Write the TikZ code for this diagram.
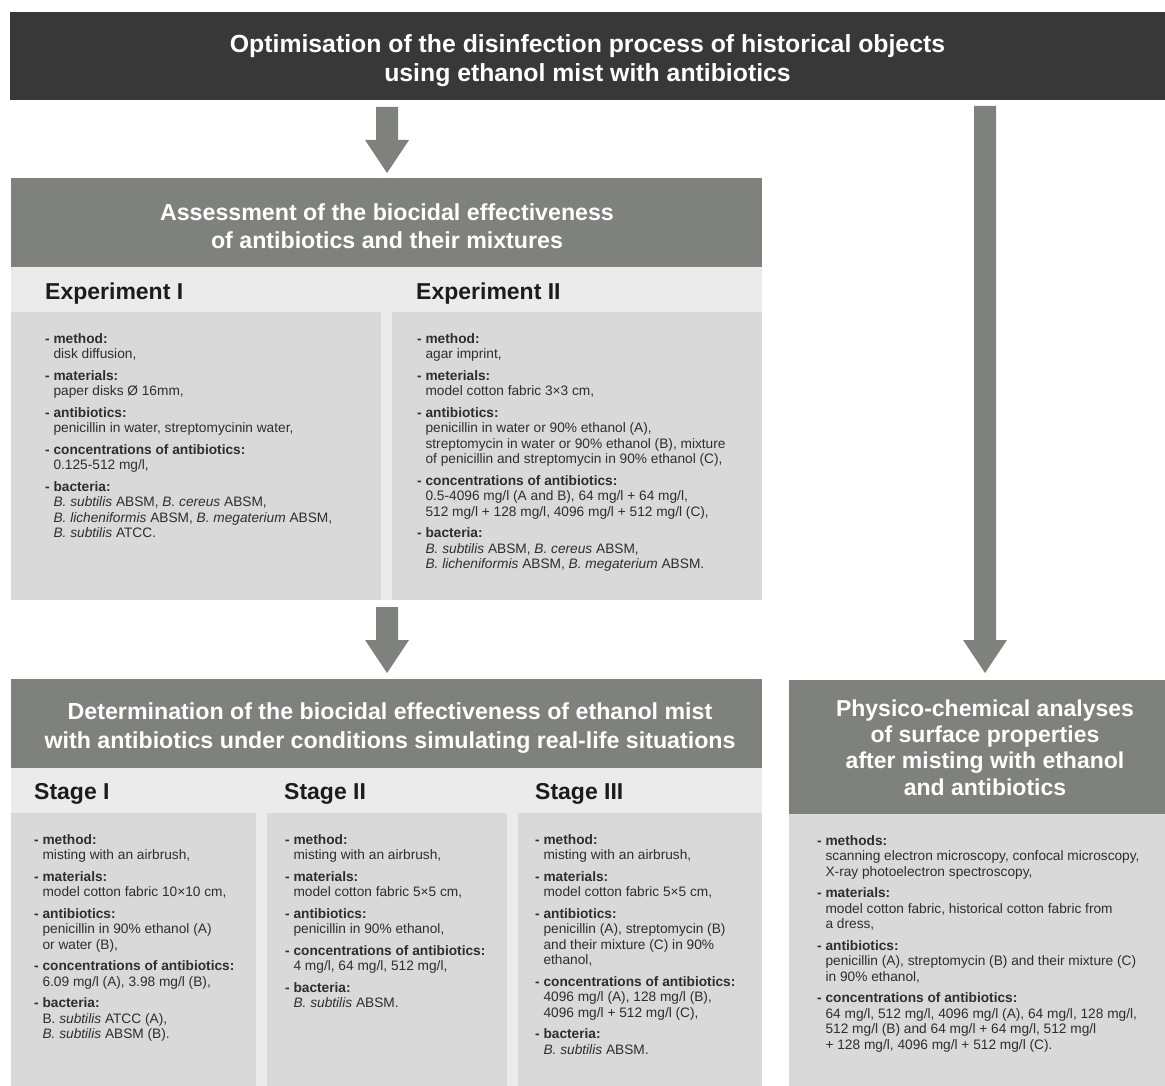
\documentclass[tikz,border=0pt]{standalone}
\usepackage{fontspec}
\setmainfont{Liberation Sans}
\usetikzlibrary{calc}
\definecolor{titlebg}{HTML}{383838}
\definecolor{hdrgrey}{HTML}{7F817D}
\definecolor{bandgrey}{HTML}{EBEBEB}
\definecolor{boxgrey}{HTML}{D9D9D9}
\definecolor{txtgrey}{HTML}{2E2E2E}
\definecolor{headtxt}{HTML}{1C1C1C}
\newcommand\lab[1]{\textbf{- #1:}}
\newcommand\ind{\hphantom{\textbf{- }}}
\newcommand\bigarrow[2]{\fill[hdrgrey] let \p1=(#1), \p2=(#2) in
  (\x1-11pt,\y1) -- (\x1+11pt,\y1) -- (\x1+11pt,\y2+33pt) -- (\x1+22pt,\y2+33pt)
  -- (\x2,\y2) -- (\x1-22pt,\y2+33pt) -- (\x1-11pt,\y2+33pt) -- cycle;}
\tikzset{
  block/.style={fill=#1, draw=none, inner sep=0pt, anchor=north west, rectangle},
  hdrtext/.style={text=white, inner sep=0pt, font=\fontsize{23.2}{28}\selectfont\bfseries, align=center},
  headline/.style={anchor=west, inner sep=0pt, text=headtxt, font=\fontsize{23}{28}\selectfont\bfseries},
  content/.style={anchor=north west, inner sep=0pt, align=left, text=txtgrey, font=\fontsize{13.7}{15.5}\selectfont}
}
\begin{document}
\begin{tikzpicture}[x=1pt,y=-1pt]
\useasboundingbox[fill=white] (0,0) rectangle (1165,1086);

% title
\node[block=titlebg, minimum width=1155pt, minimum height=88pt] (title) at (10,12) {};
\node[hdrtext, font=\fontsize{24.8}{29.5}\selectfont\bfseries] (titlet) at (587.5,60.5)
  {Optimisation of the disinfection process of historical objects\\using ethanol mist with antibiotics};

% assessment block
\node[block=bandgrey, minimum width=751pt, minimum height=333pt] (assessband) at (11,267) {};
\node[block=hdrgrey, minimum width=751pt, minimum height=89pt] (assesshdr) at (11,178) {};
\node[hdrtext] (assesst) at (387,226.5)
  {Assessment of the biocidal effectiveness\\of antibiotics and their mixtures};
\node[block=boxgrey, minimum width=370pt, minimum height=288pt] (exp1) at (11,312) {};
\node[block=boxgrey, minimum width=370pt, minimum height=288pt] (exp2) at (392,312) {};
\node[headline] (exp1h) at (45,294) {Experiment I};
\node[headline] (exp2h) at (416,294) {Experiment II};

\node[content] (exp1t) at (45,333) {%
\lab{method}\\ \ind disk diffusion,\\[6pt]
\lab{materials}\\ \ind paper disks Ø 16mm,\\[6pt]
\lab{antibiotics}\\ \ind penicillin in water, streptomycinin water,\\[6pt]
\lab{concentrations of antibiotics}\\ \ind 0.125-512 mg/l,\\[6pt]
\lab{bacteria}\\ \ind \textit{B. subtilis} ABSM, \textit{B. cereus} ABSM,\\
\ind \textit{B. licheniformis} ABSM, \textit{B. megaterium} ABSM,\\
\ind \textit{B. subtilis} ATCC.};

\node[content] (exp2t) at (417,333) {%
\lab{method}\\ \ind agar imprint,\\[6pt]
\lab{meterials}\\ \ind model cotton fabric 3×3 cm,\\[6pt]
\lab{antibiotics}\\ \ind penicillin in water or 90\% ethanol (A),\\
\ind streptomycin in water or 90\% ethanol (B), mixture\\
\ind of penicillin and streptomycin in 90\% ethanol (C),\\[6pt]
\lab{concentrations of antibiotics}\\ \ind 0.5-4096 mg/l (A and B), 64 mg/l + 64 mg/l,\\
\ind 512 mg/l + 128 mg/l, 4096 mg/l + 512 mg/l (C),\\[6pt]
\lab{bacteria}\\ \ind \textit{B. subtilis} ABSM, \textit{B. cereus} ABSM,\\
\ind \textit{B. licheniformis} ABSM, \textit{B. megaterium} ABSM.};

% determination block
\node[block=bandgrey, minimum width=751pt, minimum height=318pt] (detband) at (11,768) {};
\node[block=hdrgrey, minimum width=751pt, minimum height=89pt] (dethdr) at (11,679) {};
\node[hdrtext, font=\fontsize{23.2}{29}\selectfont\bfseries] (dett) at (390,728.5)
  {Determination of the biocidal effectiveness of ethanol mist\\with antibiotics under conditions simulating real-life situations};
\node[block=boxgrey, minimum width=245pt, minimum height=273pt] (st1) at (11,813) {};
\node[block=boxgrey, minimum width=240pt, minimum height=273pt] (st2) at (267,813) {};
\node[block=boxgrey, minimum width=244pt, minimum height=273pt] (st3) at (518,813) {};
\node[headline] (st1h) at (34,794) {Stage I};
\node[headline] (st2h) at (284,794) {Stage II};
\node[headline] (st3h) at (535,794) {Stage III};

\node[content] (st1t) at (34,834) {%
\lab{method}\\ \ind misting with an airbrush,\\[6pt]
\lab{materials}\\ \ind model cotton fabric 10×10 cm,\\[6pt]
\lab{antibiotics}\\ \ind penicillin in 90\% ethanol (A)\\
\ind or water (B),\\[6pt]
\lab{concentrations of antibiotics}\\ \ind 6.09 mg/l (A), 3.98 mg/l (B),\\[6pt]
\lab{bacteria}\\ \ind B. \textit{subtilis} ATCC (A),\\
\ind \textit{B. subtilis} ABSM (B).};

\node[content] (st2t) at (285,834) {%
\lab{method}\\ \ind misting with an airbrush,\\[6pt]
\lab{materials}\\ \ind model cotton fabric 5×5 cm,\\[6pt]
\lab{antibiotics}\\ \ind penicillin in 90\% ethanol,\\[6pt]
\lab{concentrations of antibiotics}\\ \ind 4 mg/l, 64 mg/l, 512 mg/l,\\[6pt]
\lab{bacteria}\\ \ind \textit{B. subtilis} ABSM.};

\node[content] (st3t) at (535,834) {%
\lab{method}\\ \ind misting with an airbrush,\\[6pt]
\lab{materials}\\ \ind model cotton fabric 5×5 cm,\\[6pt]
\lab{antibiotics}\\ \ind penicillin (A), streptomycin (B)\\
\ind and their mixture (C) in 90\%\\
\ind ethanol,\\[6pt]
\lab{concentrations of antibiotics}\\ \ind 4096 mg/l (A), 128 mg/l (B),\\
\ind 4096 mg/l + 512 mg/l (C),\\[6pt]
\lab{bacteria}\\ \ind \textit{B. subtilis} ABSM.};

% physico-chemical block
\node[block=hdrgrey, minimum width=376pt, minimum height=134pt] (phyhdr) at (789,680) {};
\node[block=boxgrey, minimum width=376pt, minimum height=272pt] (phybox) at (789,814) {};
\node[hdrtext, font=\fontsize{23}{26.3}\selectfont\bfseries] (phyt) at (985,747.5)
  {Physico-chemical analyses\\of surface properties\\after misting with ethanol\\and antibiotics};

\node[content] (phytx) at (817,835) {%
\lab{methods}\\ \ind scanning electron microscopy, confocal microscopy,\\
\ind X-ray photoelectron spectroscopy,\\[6pt]
\lab{materials}\\ \ind model cotton fabric, historical cotton fabric from\\
\ind a dress,\\[6pt]
\lab{antibiotics}\\ \ind penicillin (A), streptomycin (B) and their mixture (C)\\
\ind in 90\% ethanol,\\[6pt]
\lab{concentrations of antibiotics}\\ \ind 64 mg/l, 512 mg/l, 4096 mg/l (A), 64 mg/l, 128 mg/l,\\
\ind 512 mg/l (B) and 64 mg/l + 64 mg/l, 512 mg/l\\
\ind + 128 mg/l, 4096 mg/l + 512 mg/l (C).};

% arrows
\coordinate (a1s) at (387,107);
\coordinate (a1e) at (387,173);
\coordinate (a2s) at (387,607);
\coordinate (a2e) at (387,673);
\coordinate (a3s) at (985,106);
\coordinate (a3e) at (985,673);
\bigarrow{a1s}{a1e}
\bigarrow{a2s}{a2e}
\bigarrow{a3s}{a3e}
\end{tikzpicture}
\end{document}
